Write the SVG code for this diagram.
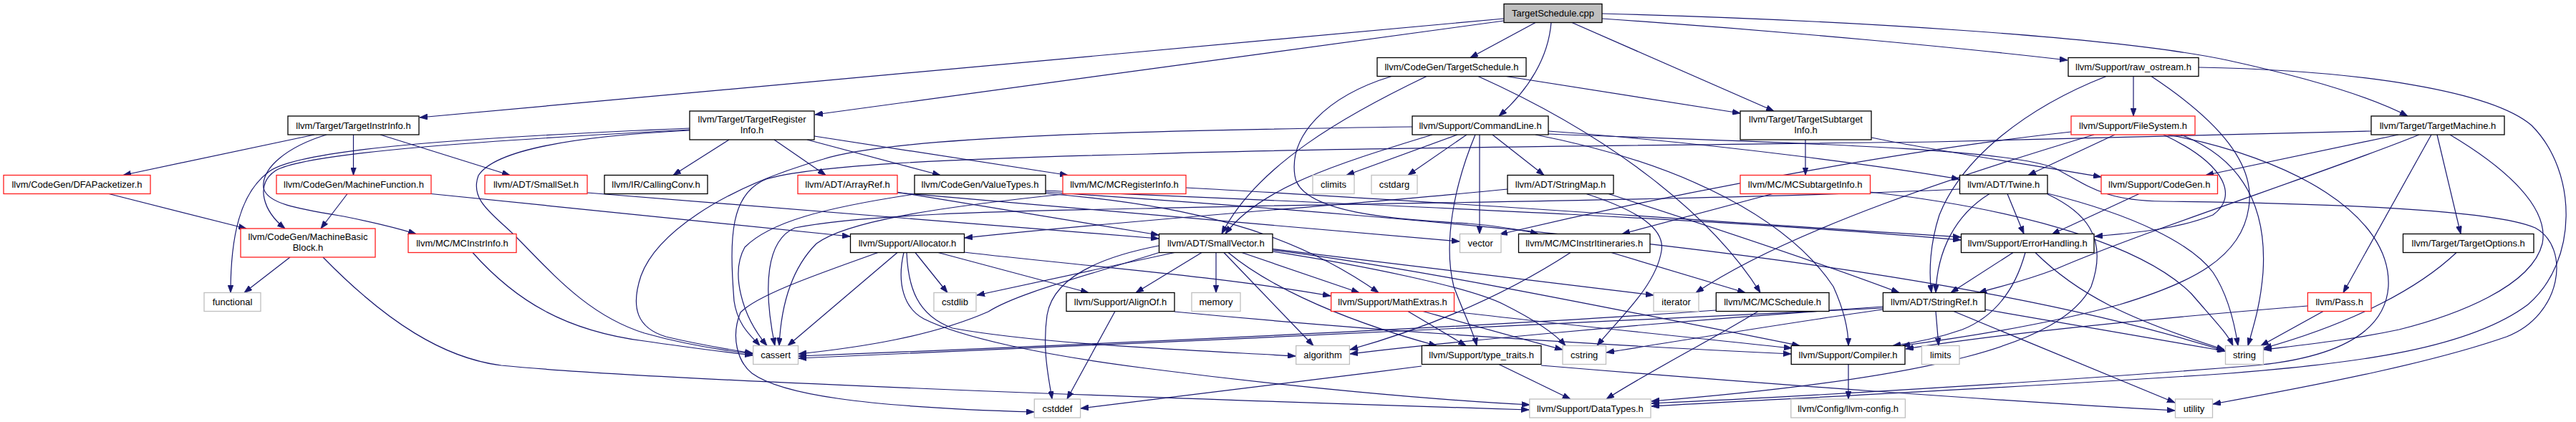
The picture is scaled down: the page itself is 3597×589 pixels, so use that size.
<svg xmlns="http://www.w3.org/2000/svg" width="3597" height="589" viewBox="0 0 3597 589">
<style>
.e{fill:none;stroke:#191970;stroke-width:1.2;marker-end:url(#ah)}
.n rect{fill:#fff;stroke-width:1.3}
.b rect{stroke:#000}
.r rect{stroke:#ff2020}
.g rect{stroke:#bfbfbf}
text{font-family:"Liberation Sans",Arial,sans-serif;font-size:13px;text-anchor:middle;fill:#000}
</style>
<defs>
<marker id="ah" markerUnits="userSpaceOnUse" markerWidth="11" markerHeight="8" refX="11" refY="4" orient="auto">
<path d="M0,0 L11,4 L0,8 z" fill="#191970" stroke="#191970" stroke-width="0.8"/>
</marker>
</defs>
<rect width="3597" height="589" fill="#fff"/>
<g id="edges">
<path class="e" d="M2100,26 L586,164"/>
<path class="e" d="M2100,29 L1138,160"/>
<path class="e" d="M2144,31.5 L2053,80.5"/>
<path class="e" d="M2166,31.5 C2162,80 2135,125 2093,162"/>
<path class="e" d="M2195,31.5 L2477,155"/>
<path class="e" d="M2237,26 C2500,44 2750,68 2887,84"/>
<path class="e" d="M2237,19 C2550,27 2950,50 3110,84 C3220,108 3310,135 3362,162"/>
<path class="e" d="M1943,106.5 C1850,135 1800,190 1808,245 C1815,298 1950,306 2050,312 C2100,316 2125,321 2148,326.5"/>
<path class="e" d="M1992,106.5 C1880,160 1755,230 1706,326.5"/>
<path class="e" d="M2064,106.5 C2250,190 2390,300 2458,408.5"/>
<path class="e" d="M2103,106.5 L2430,158"/>
<path class="e" d="M1972,177 C1600,182 1250,190 1150,222 C1000,265 915,330 895,385 C880,430 890,458 930,470 C980,482 1020,488 1051,493"/>
<path class="e" d="M2000,188 C1880,225 1760,260 1711,326.5"/>
<path class="e" d="M2035,188 L1880,244.5"/>
<path class="e" d="M2048,188 L1966,244.5"/>
<path class="e" d="M2060,188 C2030,260 2015,340 2030,400 C2045,440 2058,465 2062,482.5"/>
<path class="e" d="M2066,188 L2066,326.5"/>
<path class="e" d="M2084,188 L2156,244.5"/>
<path class="e" d="M2144,188 C2360,230 2500,310 2560,400 C2578,440 2581,465 2581,482.5"/>
<path class="e" d="M2162,183 C2400,200 2650,235 2736,250"/>
<path class="e" d="M2162,187 C2450,198 2800,205 2870,235 C2920,262 2940,280 3020,281 C3250,284 3480,292 3540,318 C3590,345 3578,440 3500,470 C3400,505 3250,535 3090,564"/>
<path class="e" d="M439,188 L172,244.5"/>
<path class="e" d="M493.5,188 L493.5,244.5"/>
<path class="e" d="M531,188 L712,244.5"/>
<path class="e" d="M456,188 C400,205 365,235 368,262 C372,285 420,292 480,302 C530,312 560,320 581,326.5"/>
<path class="e" d="M963,179 C700,190 420,205 375,240 C335,270 322,330 322,408.5"/>
<path class="e" d="M963,181 C700,195 430,212 385,238 C355,258 368,295 398,319"/>
<path class="e" d="M963,182 C800,190 690,210 668,245 C655,280 690,300 720,330 C770,380 820,440 900,465 C960,482 1010,489 1051,494"/>
<path class="e" d="M1018,195 L940,244.5"/>
<path class="e" d="M1081,195 L1153,244.5"/>
<path class="e" d="M1127,195 L1313,244.5"/>
<path class="e" d="M1137,190 L1491,244.5"/>
<path class="e" d="M152,270.5 L344,319"/>
<path class="e" d="M485,270.5 L448,319"/>
<path class="e" d="M602,270.5 L1187,330"/>
<path class="e" d="M820,269 L1618,333"/>
<path class="e" d="M405,359 L341,408.5"/>
<path class="e" d="M451,359 C540,450 620,500 700,510 C900,530 1500,552 2135,572"/>
<path class="e" d="M660,352.5 C720,420 790,462 900,476 C960,485 1010,491 1051,496"/>
<path class="e" d="M1252,268 L1618,328"/>
<path class="e" d="M1253,269 L2038,337"/>
<path class="e" d="M1277,271 C1150,290 1075,310 1040,345 C1020,380 1035,440 1071,482.5"/>
<path class="e" d="M1460,270 C1650,285 1800,320 1925,408.5"/>
<path class="e" d="M1460,266 C1900,285 2400,305 2738,335"/>
<path class="e" d="M1460,268 C2000,305 2700,360 3107,490"/>
<path class="e" d="M1490,270.5 C1300,290 1180,310 1140,340 C1100,380 1090,440 1088,482.5"/>
<path class="e" d="M1656,262 C2000,280 2400,310 2738,331"/>
<path class="e" d="M2105,264 C1900,285 1600,305 1347,332"/>
<path class="e" d="M2246,270.5 C2400,320 2550,370 2652,408.5"/>
<path class="e" d="M2215,270.5 C2290,295 2325,320 2320,350 C2312,400 2260,445 2230,482.5"/>
<path class="e" d="M2475,270.5 L2265,326.5"/>
<path class="e" d="M2611,268 C2850,295 3000,350 3060,410 C3090,445 3110,465 3118,482.5"/>
<path class="e" d="M2521,195 L2521,244.5"/>
<path class="e" d="M2613,192 C2700,210 2850,232 2934,247"/>
<path class="e" d="M2979,106.5 L2979,162"/>
<path class="e" d="M2941,106.5 C2830,150 2740,220 2708,300 C2695,340 2693,380 2697,408.5"/>
<path class="e" d="M3004,106.5 C3100,170 3150,230 3140,290 C3130,360 3060,395 2960,425 C2850,455 2720,474 2656,482.5"/>
<path class="e" d="M3070,94 C3300,98 3480,128 3535,175 C3600,240 3600,365 3530,425 C3450,485 3300,507 3100,522 C2800,542 2500,556 2306,567"/>
<path class="e" d="M2953,188 L2832,244.5"/>
<path class="e" d="M2892,184 C2700,205 2400,255 2094,327"/>
<path class="e" d="M2924,188 C2750,240 2500,320 2368,408.5"/>
<path class="e" d="M3021,188 C3110,230 3125,275 3090,300 C3040,320 2980,325 2925,330"/>
<path class="e" d="M3027,188 C3200,220 3340,300 3335,400 C3330,470 3250,500 3150,510 C2900,530 2550,552 2306,563"/>
<path class="e" d="M3045,188 C3140,225 3165,300 3160,380 C3156,430 3145,460 3139,482.5"/>
<path class="e" d="M3311,183 L2700,198 C2200,204 1800,208 1600,215 C1300,222 1130,232 1070,250 C1020,270 1018,330 1025,420 C1030,455 1050,470 1061,482.5"/>
<path class="e" d="M3349,188 L3080,244.5"/>
<path class="e" d="M3378,188 C3250,240 3000,320 2872,375 C2820,395 2790,400 2763,408.5"/>
<path class="e" d="M3395,188 L3272,408.5"/>
<path class="e" d="M3403,188 L3436,326.5"/>
<path class="e" d="M3421,188 C3500,235 3560,290 3550,340 C3535,400 3430,440 3350,460 C3280,475 3210,482 3161,488"/>
<path class="e" d="M2987,270.5 L2865,327"/>
<path class="e" d="M2803,270.5 L2826,326.5"/>
<path class="e" d="M2778,270.5 C2730,300 2705,350 2703,408.5"/>
<path class="e" d="M2859,270 C2980,300 3060,340 3090,380 C3110,410 3120,450 3125,482.5"/>
<path class="e" d="M2859,271 C2910,295 2945,330 2920,400 C2880,480 2700,528 2306,560"/>
<path class="e" d="M2736,264 C2400,280 1800,285 1600,291 C1380,295 1200,300 1110,318 C1070,335 1065,400 1082,482.5"/>
<path class="e" d="M2811,352.5 L2724,408.5"/>
<path class="e" d="M2828,352.5 C2815,400 2790,440 2740,460 C2700,474 2670,479 2643,482.5"/>
<path class="e" d="M2842,352.5 C2900,410 2970,445 3106,488"/>
<path class="e" d="M3244,434.5 L3157,482.5"/>
<path class="e" d="M3222,427 C3000,445 2800,465 2661,487"/>
<path class="e" d="M3430,352.5 C3380,400 3290,450 3161,486"/>
<path class="e" d="M1226,352.5 C1150,380 1060,410 1034,436 C1020,470 1030,505 1050,521 C1090,550 1200,568 1444,575"/>
<path class="e" d="M1253,352.5 L1100,482.5"/>
<path class="e" d="M1262,352.5 C1252,395 1262,430 1290,445 C1340,470 1450,495 1600,514 C1800,540 2000,558 2136,565"/>
<path class="e" d="M1266,352.5 C1268,400 1280,440 1330,458 C1450,480 1650,488 1809,497"/>
<path class="e" d="M1278,352.5 L1323,408.5"/>
<path class="e" d="M1310,352.5 L1520,408.5"/>
<path class="e" d="M1346,352 C1500,370 1700,385 1858,413"/>
<path class="e" d="M1678,352.5 L1586,408.5"/>
<path class="e" d="M1698,352.5 L1698,408.5"/>
<path class="e" d="M1709,352.5 L1834,482.5"/>
<path class="e" d="M1715,352.5 C1760,390 1850,440 2006,482.5"/>
<path class="e" d="M1734,352.5 L1898,408.5"/>
<path class="e" d="M1777,347.5 L2309,412"/>
<path class="e" d="M1777,351 C1900,370 2050,400 2100,425 C2150,450 2175,470 2186,482.5"/>
<path class="e" d="M1777,349 C1950,370 2200,420 2513,482.5"/>
<path class="e" d="M1620,352 C1500,390 1420,410 1380,435 C1300,470 1200,485 1115,494"/>
<path class="e" d="M1640,352.5 L1364,412"/>
<path class="e" d="M1618,343 C1530,360 1470,390 1462,440 C1455,490 1465,530 1469,557"/>
<path class="e" d="M1557,434.5 L1490,557"/>
<path class="e" d="M1640,435 C1900,460 2200,480 2501,494"/>
<path class="e" d="M1966,434.5 L2047,482.5"/>
<path class="e" d="M1987,434.5 C2060,455 2120,472 2182,488"/>
<path class="e" d="M2030,435 C2200,455 2400,475 2502,486"/>
<path class="e" d="M2093,508.5 L2193,557"/>
<path class="e" d="M1985,511 C1800,535 1600,560 1509,570"/>
<path class="e" d="M2152,510 C2450,535 2800,560 3037,573"/>
<path class="e" d="M2250,352.5 L2437,408.5"/>
<path class="e" d="M2193,352.5 C2120,400 2020,450 1885,488"/>
<path class="e" d="M2455,434.5 C2380,480 2300,520 2243,557"/>
<path class="e" d="M2396,433 C2100,455 1500,482 1115,497"/>
<path class="e" d="M2629,432 C2500,450 2350,475 2243,492"/>
<path class="e" d="M2629,428 C2300,450 2000,480 1885,494"/>
<path class="e" d="M2629,430 C2200,450 1600,480 1115,500"/>
<path class="e" d="M2703,434.5 L2707,482.5"/>
<path class="e" d="M2772,432 L3107,490"/>
<path class="e" d="M2728,434.5 L3037,562"/>
<path class="e" d="M2581,508.5 L2581,557"/>
</g>
<g id="n0" class="n b"><rect x="2100" y="5.5" width="137" height="26" style="fill:#bfbfbf"/><text x="2168.5" y="23">TargetSchedule.cpp</text></g>
<g id="n1" class="n b"><rect x="1923" y="80.5" width="208" height="26"/><text x="2027" y="98">llvm/CodeGen/TargetSchedule.h</text></g>
<g id="n6" class="n b"><rect x="2888" y="80.5" width="182" height="26"/><text x="2979" y="98">llvm/Support/raw_ostream.h</text></g>
<g id="n3" class="n b"><rect x="402" y="162" width="183" height="26"/><text x="493.5" y="179.5">llvm/Target/TargetInstrInfo.h</text></g>
<g id="n4" class="n b"><rect x="963" y="155" width="174" height="40"/><text x="1050" y="171">llvm/Target/TargetRegister</text><text x="1050" y="186">Info.h</text></g>
<g id="n2" class="n b"><rect x="1972" y="162" width="190" height="26"/><text x="2067" y="179.5">llvm/Support/CommandLine.h</text></g>
<g id="n5" class="n b"><rect x="2430" y="155" width="183" height="40"/><text x="2521.5" y="171">llvm/Target/TargetSubtarget</text><text x="2521.5" y="186">Info.h</text></g>
<g id="n19" class="n r"><rect x="2892" y="162" width="173" height="26"/><text x="2978.5" y="179.5">llvm/Support/FileSystem.h</text></g>
<g id="n7" class="n b"><rect x="3311" y="162" width="186" height="26"/><text x="3404" y="179.5">llvm/Target/TargetMachine.h</text></g>
<g id="n8" class="n r"><rect x="5" y="244.5" width="205" height="26"/><text x="107.5" y="262">llvm/CodeGen/DFAPacketizer.h</text></g>
<g id="n9" class="n r"><rect x="386" y="244.5" width="216" height="26"/><text x="494" y="262">llvm/CodeGen/MachineFunction.h</text></g>
<g id="n10" class="n r"><rect x="677" y="244.5" width="143" height="26"/><text x="748.5" y="262">llvm/ADT/SmallSet.h</text></g>
<g id="n11" class="n b"><rect x="844" y="244.5" width="144" height="26"/><text x="916" y="262">llvm/IR/CallingConv.h</text></g>
<g id="n12" class="n r"><rect x="1114" y="244.5" width="139" height="26"/><text x="1183.5" y="262">llvm/ADT/ArrayRef.h</text></g>
<g id="n13" class="n b"><rect x="1277" y="244.5" width="183" height="26"/><text x="1368.5" y="262">llvm/CodeGen/ValueTypes.h</text></g>
<g id="n14" class="n r"><rect x="1484" y="244.5" width="172" height="26"/><text x="1570" y="262">llvm/MC/MCRegisterInfo.h</text></g>
<g id="n15" class="n g"><rect x="1833" y="244.5" width="58" height="26"/><text x="1862" y="262">climits</text></g>
<g id="n16" class="n g"><rect x="1915" y="244.5" width="64" height="26"/><text x="1947" y="262">cstdarg</text></g>
<g id="n17" class="n b"><rect x="2105" y="244.5" width="148" height="26"/><text x="2179" y="262">llvm/ADT/StringMap.h</text></g>
<g id="n18" class="n r"><rect x="2430" y="244.5" width="181.5" height="26"/><text x="2520.7" y="262">llvm/MC/MCSubtargetInfo.h</text></g>
<g id="n20" class="n b"><rect x="2736.5" y="244.5" width="122.5" height="26"/><text x="2797.7" y="262">llvm/ADT/Twine.h</text></g>
<g id="n21" class="n r"><rect x="2934" y="244.5" width="162.5" height="26"/><text x="3015.2" y="262">llvm/Support/CodeGen.h</text></g>
<g id="n22" class="n r"><rect x="336" y="319" width="188" height="40"/><text x="430" y="335">llvm/CodeGen/MachineBasic</text><text x="430" y="350">Block.h</text></g>
<g id="n23" class="n r"><rect x="570" y="326.5" width="151" height="26"/><text x="645.5" y="344">llvm/MC/MCInstrInfo.h</text></g>
<g id="n24" class="n b"><rect x="1187.5" y="326.5" width="159" height="26"/><text x="1267" y="344">llvm/Support/Allocator.h</text></g>
<g id="n25" class="n b"><rect x="1618.5" y="326.5" width="158.5" height="26"/><text x="1697.8" y="344">llvm/ADT/SmallVector.h</text></g>
<g id="n26" class="n g"><rect x="2038.5" y="326.5" width="57.5" height="26"/><text x="2067.2" y="344">vector</text></g>
<g id="n27" class="n b"><rect x="2120.5" y="326.5" width="183.5" height="26"/><text x="2212.2" y="344">llvm/MC/MCInstrItineraries.h</text></g>
<g id="n28" class="n b"><rect x="2738.5" y="326.5" width="185.5" height="26"/><text x="2831.2" y="344">llvm/Support/ErrorHandling.h</text></g>
<g id="n29" class="n b"><rect x="3355.5" y="326.5" width="182.5" height="26"/><text x="3446.7" y="344">llvm/Target/TargetOptions.h</text></g>
<g id="n30" class="n g"><rect x="285" y="408.5" width="79" height="26"/><text x="324.5" y="426">functional</text></g>
<g id="n31" class="n g"><rect x="1304" y="408.5" width="59" height="26"/><text x="1333.5" y="426">cstdlib</text></g>
<g id="n32" class="n b"><rect x="1489" y="408.5" width="151" height="26"/><text x="1564.5" y="426">llvm/Support/AlignOf.h</text></g>
<g id="n33" class="n g"><rect x="1664" y="408.5" width="68" height="26"/><text x="1698" y="426">memory</text></g>
<g id="n34" class="n r"><rect x="1858.7" y="408.5" width="171.8" height="26"/><text x="1944.6" y="426">llvm/Support/MathExtras.h</text></g>
<g id="n35" class="n g"><rect x="2309" y="408.5" width="63" height="26"/><text x="2340.5" y="426">iterator</text></g>
<g id="n36" class="n b"><rect x="2396.3" y="408.5" width="157.7" height="26"/><text x="2475.1" y="426">llvm/MC/MCSchedule.h</text></g>
<g id="n37" class="n b"><rect x="2629.4" y="408.5" width="142.6" height="26"/><text x="2700.7" y="426">llvm/ADT/StringRef.h</text></g>
<g id="n38" class="n r"><rect x="3222.4" y="408.5" width="88.6" height="26"/><text x="3266.7" y="426">llvm/Pass.h</text></g>
<g id="n39" class="n g"><rect x="1051.7" y="482.5" width="62.8" height="26"/><text x="1083.1" y="500">cassert</text></g>
<g id="n40" class="n g"><rect x="1809.7" y="482.5" width="74.7" height="26"/><text x="1847" y="500">algorithm</text></g>
<g id="n41" class="n b"><rect x="1985.4" y="482.5" width="166.6" height="26"/><text x="2068.7" y="500">llvm/Support/type_traits.h</text></g>
<g id="n42" class="n g"><rect x="2182" y="482.5" width="60.5" height="26"/><text x="2212.2" y="500">cstring</text></g>
<g id="n43" class="n b"><rect x="2501.2" y="482.5" width="158.8" height="26"/><text x="2580.6" y="500">llvm/Support/Compiler.h</text></g>
<g id="n44" class="n g"><rect x="2683.4" y="482.5" width="52.6" height="26"/><text x="2709.7" y="500">limits</text></g>
<g id="n45" class="n g"><rect x="3107.5" y="482.5" width="53" height="26"/><text x="3134" y="500">string</text></g>
<g id="n46" class="n g"><rect x="1444.3" y="557" width="64.3" height="26"/><text x="1476.5" y="574.5">cstddef</text></g>
<g id="n47" class="n g"><rect x="2135.8" y="557" width="169.2" height="26"/><text x="2220.4" y="574.5">llvm/Support/DataTypes.h</text></g>
<g id="n48" class="n g"><rect x="2500.8" y="557" width="159.6" height="26"/><text x="2580.6" y="574.5">llvm/Config/llvm-config.h</text></g>
<g id="n49" class="n g"><rect x="3037.5" y="557" width="52" height="26"/><text x="3063.5" y="574.5">utility</text></g>
</svg>
